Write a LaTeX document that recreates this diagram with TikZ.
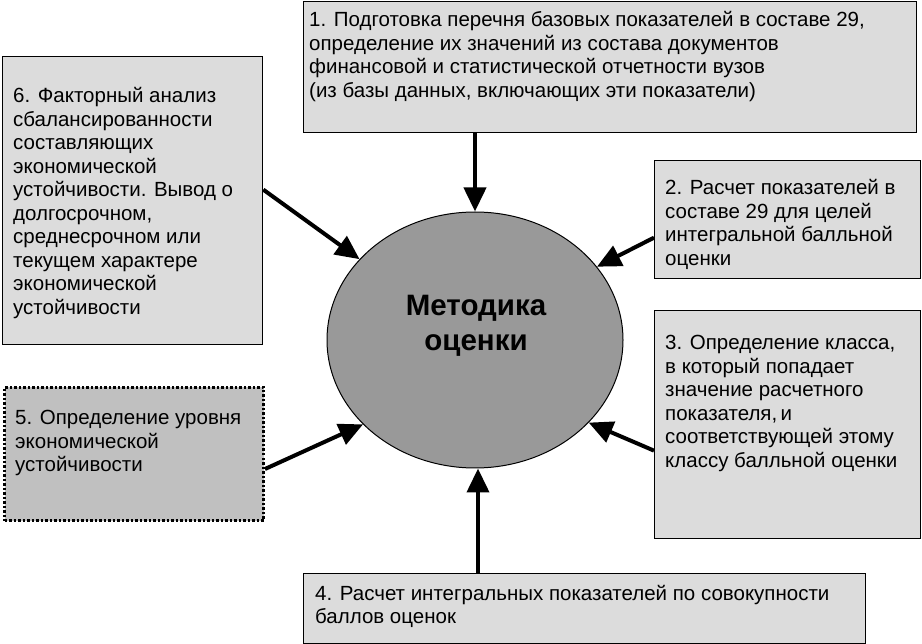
\documentclass[tikz,border=0pt]{standalone}
\usepackage{fontspec}
\setmainfont{Liberation Sans}
\usetikzlibrary{arrows.meta,shapes.geometric}
\definecolor{boxgray}{HTML}{DCDCDC}
\definecolor{darkbox}{HTML}{C0C0C0}
\definecolor{ellgray}{HTML}{999999}
\newcommand{\mylines}[1]{\begin{tabular}[t]{@{}l@{}}#1\end{tabular}}
\tikzset{
  box/.style={draw=black, line width=1.3pt, fill=boxgray, rectangle, inner sep=0pt},
  dotbox/.style={draw=black, line width=3pt, dash pattern=on 2.5pt off 2pt, fill=darkbox, rectangle, inner sep=0pt},
  txt/.style={anchor=base west, inner sep=0pt, font=\fontsize{20.5}{23.5}\selectfont},
  arr/.style={line width=4pt, -{Triangle[length=24pt,width=22pt]}, shorten >=0pt},
}
\begin{document}
\begin{tikzpicture}[x=1pt,y=1pt]
\useasboundingbox (0,0) rectangle (922,-644);
% boxes
\node[box, anchor=north west, minimum width=613pt, minimum height=131pt] (b1) at (303,-1) {};
\node[box, anchor=north west, minimum width=266pt, minimum height=118pt] (b2) at (654,-160) {};
\node[box, anchor=north west, minimum width=266pt, minimum height=228pt] (b3) at (654,-310) {};
\node[box, anchor=north west, minimum width=562pt, minimum height=70pt] (b4) at (303,-573) {};
\node[dotbox, anchor=north west, minimum width=259pt, minimum height=133pt] (b5) at (3,-386) {};
\node[box, anchor=north west, minimum width=260pt, minimum height=288pt] (b6) at (2,-56) {};
% ellipse
\node[ellipse, draw=black, line width=1pt, fill=ellgray, minimum width=296pt, minimum height=256pt, inner sep=0pt] (m) at (475,-340) {};
\node[font=\fontsize{29.5}{35}\selectfont\bfseries, align=center, inner sep=0pt] (mt) at (476,-326) {Методика\\оценки};
% texts
\node[txt] (t1) at (309,-27) {\mylines{1. Подготовка перечня базовых показателей в составе 29,\\определение их значений из состава документов\\финансовой и статистической отчетности вузов\\(из базы данных, включающих эти показатели)}};
\node[txt] (t2) at (665,-195) {\mylines{2. Расчет показателей в\\составе 29 для целей\\интегральной балльной\\оценки}};
\node[txt] (t3) at (665,-350) {\mylines{3. Определение класса,\\в который попадает\\значение расчетного\\показателя,\,и\\соответствующей этому\\классу балльной оценки}};
\node[txt] (t4) at (315,-600) {\mylines{4. Расчет интегральных показателей по совокупности\\баллов оценок}};
\node[txt] (t5) at (15,-425) {\mylines{5. Определение уровня\\экономической\\устойчивости}};
\node[txt] (t6) at (13,-103) {\mylines{6. Факторный анализ\\сбалансированности\\составляющих\\экономической\\устойчивости. Вывод о\\долгосрочном,\\среднесрочном или\\текущем характере\\экономической\\устойчивости}};
% arrows
\draw[arr] (m.north |- b1.south) -- (m.north);
\draw[arr] ([yshift=11pt]b6.east) -- (m.145);
\draw[arr] ([yshift=-18pt]b2.west) -- (m.31);
\draw[arr] ([yshift=-26pt]b3.west) -- (m.-36);
\draw[arr] ([xshift=3pt]b4.north -| m.south) -- ([xshift=3pt]m.south);
\draw[arr] ([yshift=-15pt]b5.east) -- (m.217);
\end{tikzpicture}
\end{document}
